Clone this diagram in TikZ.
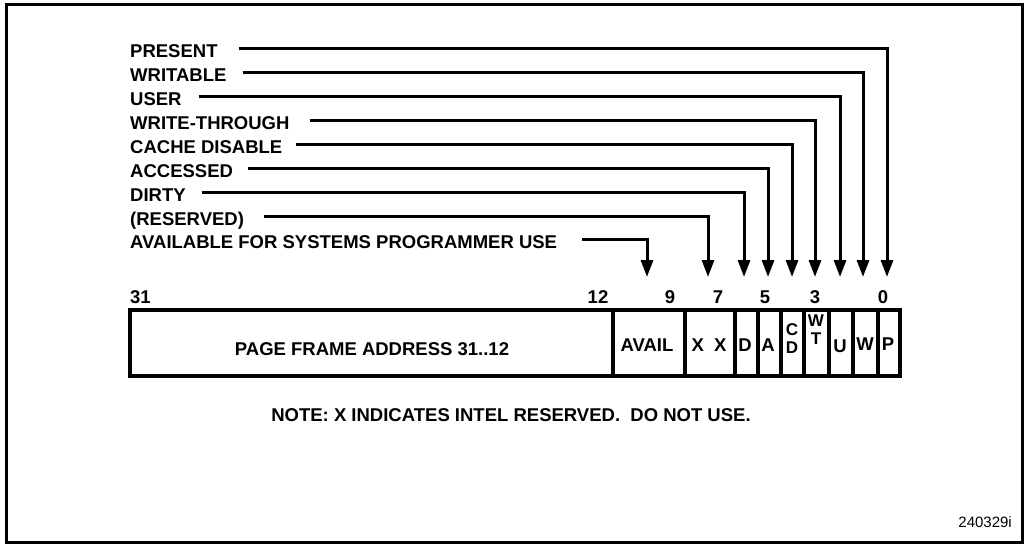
\documentclass[tikz,border=0pt]{standalone}
\usepackage{fontspec}
\setmainfont{Liberation Sans}
\usetikzlibrary{arrows.meta}
\begin{document}
\begin{tikzpicture}[x=1pt,y=-1pt,
  lbl/.style={font=\fontsize{18.5}{20}\selectfont\bfseries, inner sep=0pt, anchor=west, text height=13pt, text depth=0pt},
  num/.style={font=\fontsize{18.5}{20}\selectfont\bfseries, inner sep=0pt, text height=13pt, text depth=0pt},
  field/.style={draw, line width=4.5pt, minimum height=66pt, inner sep=0pt},
  ftext/.style={font=\fontsize{18.5}{20}\selectfont\bfseries, inner sep=0pt, text height=13pt, text depth=0pt},
  stext/.style={font=\fontsize{17}{18}\selectfont\bfseries, inner sep=0pt, text height=12pt, text depth=0pt},
  conn/.style={line width=3pt, -{Triangle[length=17pt,width=12pt]}},
  frame/.style={line width=3pt},
  idtext/.style={font=\fontsize{15}{17}\selectfont, inner sep=0pt, text height=11pt, text depth=0pt},
]
\useasboundingbox (0,0) rectangle (1024,544);
\draw[frame] (6,4) rectangle (1022,542);

% labels
\node[lbl] (lP)  at (130,51)  {PRESENT};
\node[lbl] (lW)  at (130,75)  {WRITABLE};
\node[lbl] (lU)  at (130,99)  {USER};
\node[lbl] (lWT) at (130,123) {WRITE-THROUGH};
\node[lbl] (lCD) at (130,147) {CACHE DISABLE};
\node[lbl] (lA)  at (130,171) {ACCESSED};
\node[lbl] (lD)  at (130,195) {DIRTY};
\node[lbl] (lX)  at (130,219) {(RESERVED)};
\node[lbl] (lAV) at (130,242) {AVAILABLE FOR SYSTEMS PROGRAMMER USE};

% fields
\node[field, minimum width=483pt] (fPF) at (371.5,343) {};
\node[field, minimum width=72pt]  (fAV) at (649,343) {};
\node[field, minimum width=50pt]  (fX)  at (710,343) {};
\node[field, minimum width=23pt]  (fD)  at (746.5,343) {};
\node[field, minimum width=23pt]  (fA)  at (769.5,343) {};
\node[field, minimum width=23pt]  (fCD) at (792.5,343) {};
\node[field, minimum width=25pt]  (fWT) at (816.5,343) {};
\node[field, minimum width=24pt]  (fU)  at (841,343) {};
\node[field, minimum width=25pt]  (fW)  at (865.5,343) {};
\node[field, minimum width=22pt]  (fP)  at (889,343) {};

% field texts
\node[ftext] (tPF) at (372,349) {PAGE FRAME ADDRESS 31..12};
\node[ftext] (tAV) at (647,345) {AVAIL};
\node[ftext] (tX)  at (709,345) {X\hspace{10pt}X};
\node[ftext] (tD)  at (745,345) {D};
\node[ftext] (tA)  at (768,345) {A};
\node[stext] (tC1) at (792,329) {C};
\node[stext] (tC2) at (792,347) {D};
\node[stext] (tW1) at (816,320) {W};
\node[stext] (tW2) at (816,338) {T};
\node[ftext] (tU)  at (840,346) {U};
\node[ftext] (tWW) at (865,344) {W};
\node[ftext] (tPP) at (888,344) {P};

% bit numbers
\node[num, anchor=west] (n31) at (130,297) {31};
\node[num] (n12) at (598,297) {12};
\node[num] (n9)  at (670,297) {9};
\node[num] (n7)  at (718,297) {7};
\node[num] (n5)  at (765,297) {5};
\node[num] (n3)  at (815,297) {3};
\node[num] (n0)  at (883,297) {0};

% arrow tip coordinates
\coordinate (aP)  at (887,277);
\coordinate (aW)  at (863,277);
\coordinate (aU)  at (840,277);
\coordinate (aWT) at (815,277);
\coordinate (aCD) at (792,277);
\coordinate (aA)  at (768,277);
\coordinate (aD)  at (744,277);
\coordinate (aX)  at (708,277);
\coordinate (aAV) at (647,277);

% connectors
\draw[conn] ([xshift=21pt,yshift=3pt]lP.east)  -| (aP);
\draw[conn] ([xshift=16pt,yshift=3pt]lW.east)  -| (aW);
\draw[conn] ([xshift=17pt,yshift=3pt]lU.east)  -| (aU);
\draw[conn] ([xshift=20pt,yshift=3pt]lWT.east) -| (aWT);
\draw[conn] ([xshift=13pt,yshift=3pt]lCD.east) -| (aCD);
\draw[conn] ([xshift=15pt,yshift=3pt]lA.east)  -| (aA);
\draw[conn] ([xshift=16pt,yshift=3pt]lD.east)  -| (aD);
\draw[conn] ([xshift=20pt,yshift=3pt]lX.east)  -| (aX);
\draw[conn] ([xshift=25pt,yshift=3pt]lAV.east) -| (aAV);

% note and id
\node[ftext] (note) at (511,415) {NOTE: X INDICATES INTEL RESERVED.\ \ DO NOT USE.};
\node[idtext, anchor=east] (id) at (1012,522) {240329i};
\end{tikzpicture}
\end{document}
